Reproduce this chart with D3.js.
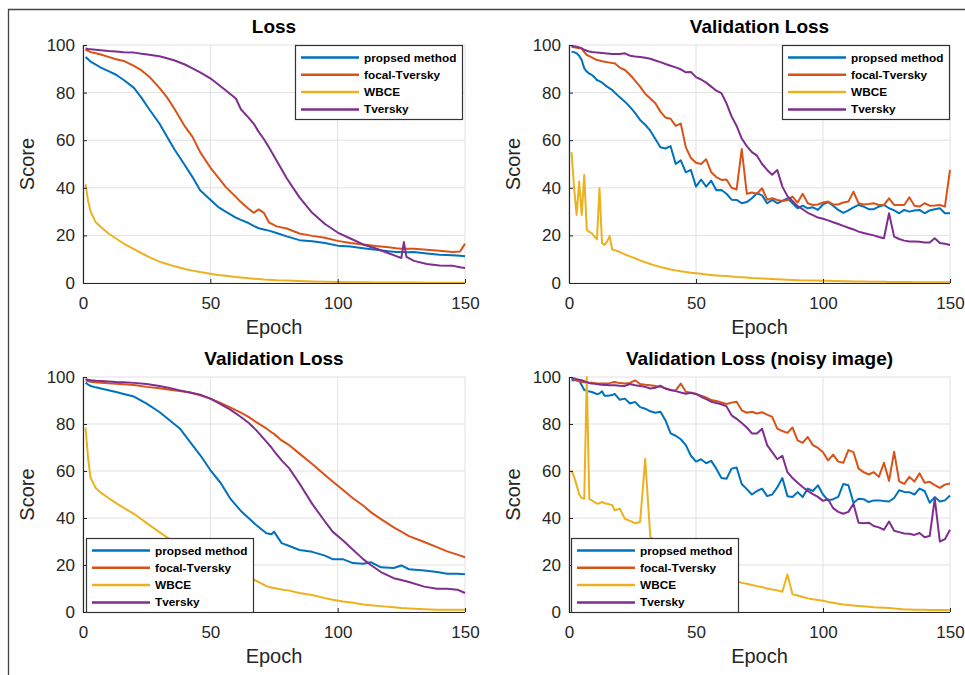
<!DOCTYPE html>
<html>
<head>
<meta charset="utf-8">
<style>
  body { margin: 0; background: #fff; }
  svg text { font-family: "Liberation Sans", Arial, Helvetica, sans-serif; }
</style>
</head>
<body>
<div id="chart"></div>
<script src="https://cdnjs.cloudflare.com/ajax/libs/d3/7.8.5/d3.min.js"></script>
<script>
/* ---------- data ---------- */
var seriesNames = ["propsed method", "focal-Tversky", "WBCE", "Tversky"];
var seriesColors = ["#0072BD", "#D95319", "#EDB120", "#7E2F8E"];
var xTicks = [0, 50, 100, 150];
var yTicks = [0, 20, 40, 60, 80, 100];

// top-left panel "Loss"
var epochsA = [1,2,3,5,7,10,13,16,20,23,26,30,33,36,40,43,46,50,53,56,60,62,65,67,69,71,73,76,80,85,90,95,100,105,110,115,120,123,125,126,127,130,135,140,145,148,150];
var lossProposed = [95,94,93,91.8,90.5,89,87.5,85.3,82,77.8,73,67,61.5,56,49.5,44.5,39,35,32,30,27.5,26.5,25.2,24,23,22.5,22,21,19.6,18,17.5,16.8,15.7,15.3,14.6,14,13.3,13,13,13,12.9,13,12.4,11.9,11.7,11.4,11.2];
var lossFocal = [98,97.5,97,96.5,96,95,94,93.3,91.2,89.3,86.7,82,78,73,65.8,61.4,55,48.5,44.5,40.4,36.2,34,31.2,29.5,30.9,29.5,25.5,23.8,22.9,20.8,19.8,19,17.7,16.8,16.2,15.5,15,14.6,14.4,14.4,14.4,14.4,14,13.5,13,13.2,16.5];
var lossWbce = [41.5,34.5,30,25.5,23.5,20.8,18.7,16.5,14.2,12.5,10.9,9,8,7,5.9,5.2,4.6,3.9,3.4,3,2.5,2.3,2,1.8,1.7,1.5,1.4,1.2,1.1,0.8,0.6,0.5,0.4,0.35,0.3,0.25,0.2,0.2,0.2,0.2,0.2,0.2,0.15,0.15,0.1,0.1,0.1];
var lossTversky = [98.5,98.3,98.2,98,97.8,97.5,97.3,97,96.8,96.3,95.9,95.3,94.4,93.5,91.8,90.2,88.5,86,83.5,81,77.5,73,69.5,67,63.5,60.5,57,51.5,44,36,29.5,24.8,21.2,18.7,16.2,14.5,12.5,11.3,10.5,17.2,11,9.3,8,7.4,7.3,6.6,6.3];

// epochs for the two noisy panels (right column)
var epochsB = [1,2,3,4,5,6,7,8,9,10,11,12,13,14,15,16,17,
  18,20,22,24,26,28,30,32,34,36,38,40,42,44,46,48,50,52,54,56,58,60,62,64,
  66,68,70,72,74,76,78,80,82,84,86,88,90,92,94,96,98,100,102,104,106,108,110,112,
  114,116,118,120,122,124,126,128,130,132,134,136,138,140,142,144,146,148,150];

// top-right panel "Validation Loss"
var valProposed = [97.2,97,96.5,95.5,93.7,90.2,88.8,88,87.4,86.5,85.3,84.8,84.2,83.3,82.5,81.8,81.1,
  80,78,76.2,74,71.5,68.5,66.5,64,60.5,57,56.5,57.5,
  50,51.5,46.5,47.5,40.5,43.5,40.5,43,39,39.1,37.5,35,
  34.9,33.5,34,35.6,37.7,36.8,33.5,34.9,33.5,34.5,35.6,33.5,
  31.4,32.5,31.4,31.8,30.7,33,34,32.5,30.7,29.5,30.5,31.8,
  32.8,32.1,31,31,32.1,32.8,31.4,30.5,29.3,30.7,30,30.5,
  30.7,29.3,30.5,31,31.4,29.3,29.3];
var valFocal = [99.3,99,98.8,98.6,98.6,97,95.8,95.3,94.8,94.2,93.7,93.5,93.2,93,92.8,92.6,92.4,
  92.3,90.5,89.5,87.5,85,82.5,79.5,77.5,75.5,72,69.5,69,
  66,67,57,52.5,50.5,50,52,46.5,44.5,43.3,43.5,40,
  39.3,56.3,37.5,38,37.5,39.8,35,35.6,34.9,34.5,34.8,36.3,
  33.8,37.5,33.5,32.8,33,33.8,34.2,33,33,33.8,34.2,38.4,
  33.5,33,33.2,33.5,32.8,32.8,35.6,32.8,32.8,32.8,36,32.5,
  32.1,33.5,32.5,32.6,32.8,32.1,47.5];
var valWbce = [55,40,28.6,42.6,28.6,45.4,22.3,21.5,20.9,19.5,18.3,39.8,16.7,16,17.5,19.7,14.1,
  13.8,13,12,11.2,10.4,9.5,8.7,8,7.3,6.7,6.2,5.7,
  5.3,4.9,4.6,4.3,4.1,3.9,3.6,3.4,3.2,3,2.9,2.7,
  2.5,2.4,2.3,2.1,2,1.9,1.8,1.7,1.6,1.5,1.4,1.3,
  1.2,1.1,1.1,1,1,0.9,0.9,0.8,0.8,0.7,0.7,0.6,
  0.6,0.6,0.5,0.5,0.5,0.5,0.4,0.4,0.4,0.4,0.4,0.3,
  0.3,0.3,0.3,0.3,0.3,0.3,0.3];
var valTversky = [99.6,99.5,99.3,99,98.6,98,97.6,97.3,97.1,97,96.8,96.7,96.6,96.5,96.4,96.3,96.2,
  96.2,96.2,96.5,95.5,95.2,95,94.6,94.2,93.5,92.8,92,91.3,
  90.6,89.8,88.5,88.7,86.5,85.5,84.2,82.5,80.8,79.8,75.5,70,
  66,60.7,57.5,55,53.5,50,47.5,45.5,47.5,40.5,36.5,34.5,
  32.3,31,29.5,28.5,27.5,27,26.3,25.5,24.8,24,23.2,22.5,
  21.6,21,20.5,20,19.3,18.8,29.3,19.5,18.5,17.8,17.4,17.4,
  17.3,17,17,18.8,16.8,16.5,16];

// bottom-left panel "Validation Loss"
var epochsC = [1,2,3,5,7,10,13,16,20,25,30,34,38,42,46,50,54,58,62,65,68,72,74,75,78,81,85,90,95,98,102,106,110,113,117,122,125,128,134,139,143,147,150];
var val2Proposed = [97.6,96.8,96.2,95.6,95.1,94.4,93.6,92.8,91.7,88.7,85.1,81.6,78.1,72.4,66.8,60.4,55,48,43,40,37,33.5,33.1,34.2,29.3,28.1,26.4,25.6,24,22.5,22.5,20.8,20.5,21.2,19,18.7,19.8,18.2,17.7,17,16.3,16.3,16.1];
var val2Focal = [98.7,98.2,98,97.8,97.6,97.3,97.1,96.9,96.6,95.8,95.2,94.6,94,93.4,92.2,90.8,89,87,84.8,83,80.8,78.1,76.5,75.8,73,71,67.4,63,58.3,55.5,52,48.4,45.3,42.5,39.5,36,34.2,32.3,29.8,27.6,25.8,24.4,23.3];
var val2Wbce = [78.5,65.3,57,52.8,50.8,48.5,46.3,44.3,41.8,37.8,34,31,28.5,26,23.5,21.3,19.3,17.5,15.8,14.8,13.3,11,10.4,10.2,9.6,9.1,8.1,7.2,5.9,5.2,4.5,3.9,3.2,2.9,2.5,2,1.7,1.5,1.2,1,1,1,1];
var val2Tversky = [99.1,98.8,98.6,98.4,98.3,98.1,97.9,97.8,97.5,97,96.2,95.3,94.3,93.4,92.5,90.8,88.5,86,83,80.5,77.4,72.5,70,68.5,64.5,61.1,54.7,46,38.5,34.2,30.5,26.5,22.5,20,17,14.4,13.6,12.8,10.8,9.9,9.9,9.5,8.1];

// bottom-right panel "Validation Loss (noisy image)"
var noisyProposed = [98.6,98.6,98.6,98.4,96.5,94.5,94.2,93.8,93.6,93.2,92.7,93,93.9,92,92,92.1,92.3,
  92.8,90.3,90.8,88.7,89.4,87.2,86.5,85.4,84.8,85.2,81.5,76,
  75,73.5,71,66.5,64,65,63.3,64.3,61,57,56.7,61,
  61.5,54.5,52.3,50,51.5,52.5,49.3,50,53,57,49.3,48.9,
  51,48.9,52.5,51.5,53.9,50,47.5,48,49,54.5,53.9,46.5,
  48.2,48,46.8,47.5,47.5,47.2,47,48.5,51.8,51.1,51,50,
  52.5,51.5,46.5,48.9,47,47.5,49.6];
var noisyFocal = [99.3,99,98.5,98.2,97.9,97.8,97.7,97.6,97.6,97.4,97.2,97.2,97.2,97.2,97.2,97.4,97.7,
  97.9,97.4,97.2,97.5,98.6,97,96.7,96.5,96.2,95.8,95.2,94.4,
  94.3,97.2,93.7,93.3,92.8,92,91.3,90.2,89.8,89.2,88.5,89.1,
  89.5,85.8,84.8,85.2,84.5,85,84,83,78,77,76.2,78.5,
  73,72,74.5,71,69.8,68,64.5,67,64,63.5,68.9,68,
  61,59.5,58.5,59.5,57.5,63.5,55.8,68.2,55.6,54.5,57.5,55.5,
  59,55,55.4,54,52.8,54.2,54.7];
var noisyWbce = [60.3,57.5,54,50,48.5,48.2,100,48,47.5,46.8,46.1,46.3,46.8,46.3,46.1,45.8,45.4,
  43.3,44,39.7,38.8,37.8,38.3,65.2,32,30,28.5,27,25.5,
  24.3,23,22,21,20,19,18,17.2,16.3,15.5,14.8,14,
  13.2,12.4,12,11.5,11,10.6,10,9.6,9.2,8.6,16,7.5,
  7,6.4,5.8,5.4,5.1,4.8,4.3,3.9,3.5,3.2,3,2.8,
  2.6,2.4,2.2,2,1.9,1.8,1.7,1.5,1.3,1.1,1.1,1,
  1,1,0.9,0.9,0.8,0.8,0.7];
var noisyTversky = [99.6,99.4,99.1,98.8,98.6,98.2,97.8,97.4,97.2,97.1,97,96.8,96.7,96.6,96.6,96.5,96.5,
  96.5,96.3,96.2,97,96.5,96.2,95.8,95.1,95.4,96.3,95,94.5,
  94,93.4,92.9,93.3,92.8,91.6,90.6,89.5,88.9,88.4,87.5,83.7,
  82.2,80.4,78.5,76,76,78,71,68,65,66.5,59.5,57,
  55,53.2,51.5,50.2,49,47.3,48,44.2,42.6,41.8,42.6,46,
  38,37.8,38,36.6,36,35,38.5,34.6,34,33.4,33.3,32.8,
  33.6,31.8,32.3,48.2,30,31,35];

/* ---------- layout ---------- */
var width = 965, height = 675;
var panels = [
  { title: "Loss", left: 83, top: 45, w: 382, h: 238, epochs: epochsA,
    series: [lossProposed, lossFocal, lossWbce, lossTversky], legend: [295, 45] },
  { title: "Validation Loss", left: 569, top: 45, w: 381, h: 238, epochs: epochsB,
    series: [valProposed, valFocal, valWbce, valTversky], legend: [782, 45] },
  { title: "Validation Loss", left: 83, top: 377, w: 382, h: 235, epochs: epochsC,
    series: [val2Proposed, val2Focal, val2Wbce, val2Tversky], legend: [86, 538] },
  { title: "Validation Loss (noisy image)", left: 569, top: 377, w: 381, h: 235, epochs: epochsB,
    series: [noisyProposed, noisyFocal, noisyWbce, noisyTversky], legend: [571, 538] }
];

var svg = d3.select("#chart").append("svg")
    .attr("width", width)
    .attr("height", height);

// outer frame of the figure
svg.append("path")
    .attr("d", "M8.5," + height + "V9.5H" + width)
    .attr("fill", "none")
    .attr("stroke", "#444")
    .attr("stroke-width", 1.3);

var defs = svg.append("defs");

panels.forEach(function(p, pi) {
    var x = d3.scaleLinear().domain([0, 150]).range([0, p.w]);
    var y = d3.scaleLinear().domain([0, 100]).range([p.h, 0]);

    var g = svg.append("g").attr("transform", "translate(" + p.left + "," + p.top + ")");

    // grid
    g.append("g").selectAll("line.gx").data(xTicks).enter().append("line")
        .attr("x1", function(d) { return x(d); }).attr("x2", function(d) { return x(d); })
        .attr("y1", 0).attr("y2", p.h)
        .attr("stroke", "#e1e1e1").attr("stroke-width", 1);
    g.append("g").selectAll("line.gy").data(yTicks).enter().append("line")
        .attr("y1", function(d) { return y(d); }).attr("y2", function(d) { return y(d); })
        .attr("x1", 0).attr("x2", p.w)
        .attr("stroke", "#e1e1e1").attr("stroke-width", 1);

    // curves
    defs.append("clipPath").attr("id", "clip" + pi)
        .append("rect").attr("x", 0).attr("y", -1).attr("width", p.w + 1).attr("height", p.h + 1);

    var line = d3.line()
        .x(function(d) { return x(d[0]); })
        .y(function(d) { return y(d[1]); });

    var curves = g.append("g").attr("clip-path", "url(#clip" + pi + ")");
    p.series.forEach(function(vals, si) {
        var pts = p.epochs.map(function(e, i) { return [e, vals[i]]; });
        curves.append("path")
            .datum(pts)
            .attr("d", line)
            .attr("fill", "none")
            .attr("stroke", seriesColors[si])
            .attr("stroke-width", 2)
            .attr("stroke-linejoin", "round");
    });

    // axes
    var xAxis = d3.axisBottom(x).tickValues(xTicks).tickSize(-4).tickPadding(10);
    var yAxis = d3.axisLeft(y).tickValues(yTicks).tickSize(-4).tickPadding(8);

    var gx = g.append("g").attr("transform", "translate(0," + p.h + ")").call(xAxis);
    var gy = g.append("g").call(yAxis);
    [gx, gy].forEach(function(a) {
        a.select(".domain").attr("stroke", "#262626").attr("stroke-width", 1.2);
        a.selectAll(".tick line").attr("stroke", "#262626");
        a.selectAll(".tick text")
            .attr("fill", "#262626")
            .style("font-size", "17px");
    });
    gx.select(".domain").attr("d", "M0,0.5H" + p.w);
    gy.select(".domain").attr("d", "M0.5," + p.h + "V0");
    gx.selectAll(".tick text").attr("dy", "1em").attr("y", 9);

    // titles and labels
    g.append("text")
        .attr("x", p.w / 2).attr("y", -12)
        .attr("text-anchor", "middle")
        .style("font-size", "19px").style("font-weight", "bold")
        .attr("fill", "#000")
        .text(p.title);

    g.append("text")
        .attr("x", p.w / 2).attr("y", p.h + 51)
        .attr("text-anchor", "middle")
        .style("font-size", "20px")
        .attr("fill", "#262626")
        .text("Epoch");

    g.append("text")
        .attr("transform", "translate(-56," + (p.h / 2) + ") rotate(-90)")
        .attr("text-anchor", "middle")
        .attr("dominant-baseline", "central")
        .style("font-size", "20px")
        .attr("fill", "#262626")
        .text("Score");

    // legend
    var lg = svg.append("g").attr("transform", "translate(" + p.legend[0] + "," + p.legend[1] + ")");
    lg.append("rect")
        .attr("x", 0.5).attr("y", 0.5).attr("width", 167).attr("height", 74)
        .attr("fill", "#fff").attr("stroke", "#333").attr("stroke-width", 1.2);
    seriesNames.forEach(function(name, si) {
        var ry = 12.5 + si * 17.3;
        lg.append("line")
            .attr("x1", 6).attr("x2", 64).attr("y1", ry).attr("y2", ry)
            .attr("stroke", seriesColors[si]).attr("stroke-width", 2.5);
        lg.append("text")
            .attr("x", 69).attr("y", ry)
            .attr("dominant-baseline", "central")
            .style("font-size", "11.8px").style("font-weight", "bold")
            .attr("fill", "#000")
            .text(name);
    });
});
</script>
</body>
</html>
